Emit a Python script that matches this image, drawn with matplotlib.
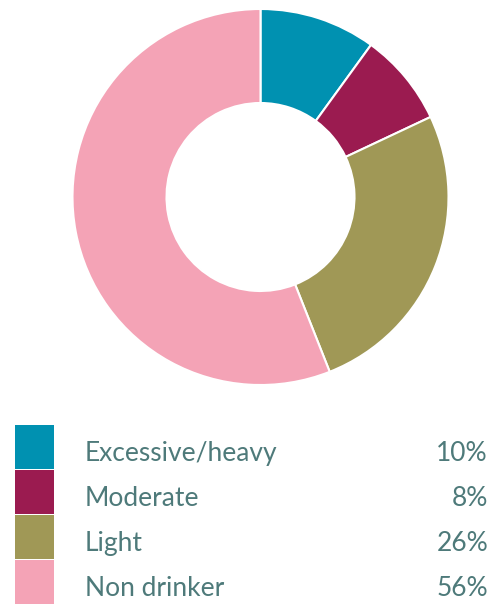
import matplotlib
matplotlib.use("Agg")
import matplotlib.pyplot as plt
from matplotlib.patches import Rectangle

labels = ["Excessive/heavy", "Moderate", "Light", "Non drinker"]
values = [10, 8, 26, 56]
colors = ["#0091b1", "#9b1b50", "#a09856", "#f4a3b6"]
text_color = "#4e7a7a"

W, H = 499, 605
fig = plt.figure(figsize=(W / 100, H / 100), dpi=100)

# donut
ax = fig.add_axes([72.5 / W, (H - 385) / H, 376 / W, 376 / H])
ax.pie(values, colors=colors, startangle=90, counterclock=False,
       wedgeprops=dict(width=0.5, edgecolor="white", linewidth=1.5))
ax.set_xlim(-1, 1)
ax.set_ylim(-1, 1)
ax.set_aspect("equal")
ax.axis("off")

# legend rows
row_top = 425
row_h = 45
for i, (lab, val, col) in enumerate(zip(labels, values, colors)):
    top = row_top + i * row_h
    fig.patches.append(Rectangle((15 / W, (H - top - row_h + 1) / H), 39 / W, (row_h - 1) / H,
                                 transform=fig.transFigure, facecolor=col, edgecolor="none"))
    yb = (H - top - 36) / H
    fig.text(85 / W, yb, lab, fontsize=19, fontfamily="Lato", fontweight="normal",
             color=text_color, va="baseline", ha="left")
    fig.text(488 / W, yb, f"{val}%", fontsize=19, fontfamily="Lato", fontweight="normal",
             color=text_color, va="baseline", ha="right")

fig.savefig("out.png", dpi=100)
